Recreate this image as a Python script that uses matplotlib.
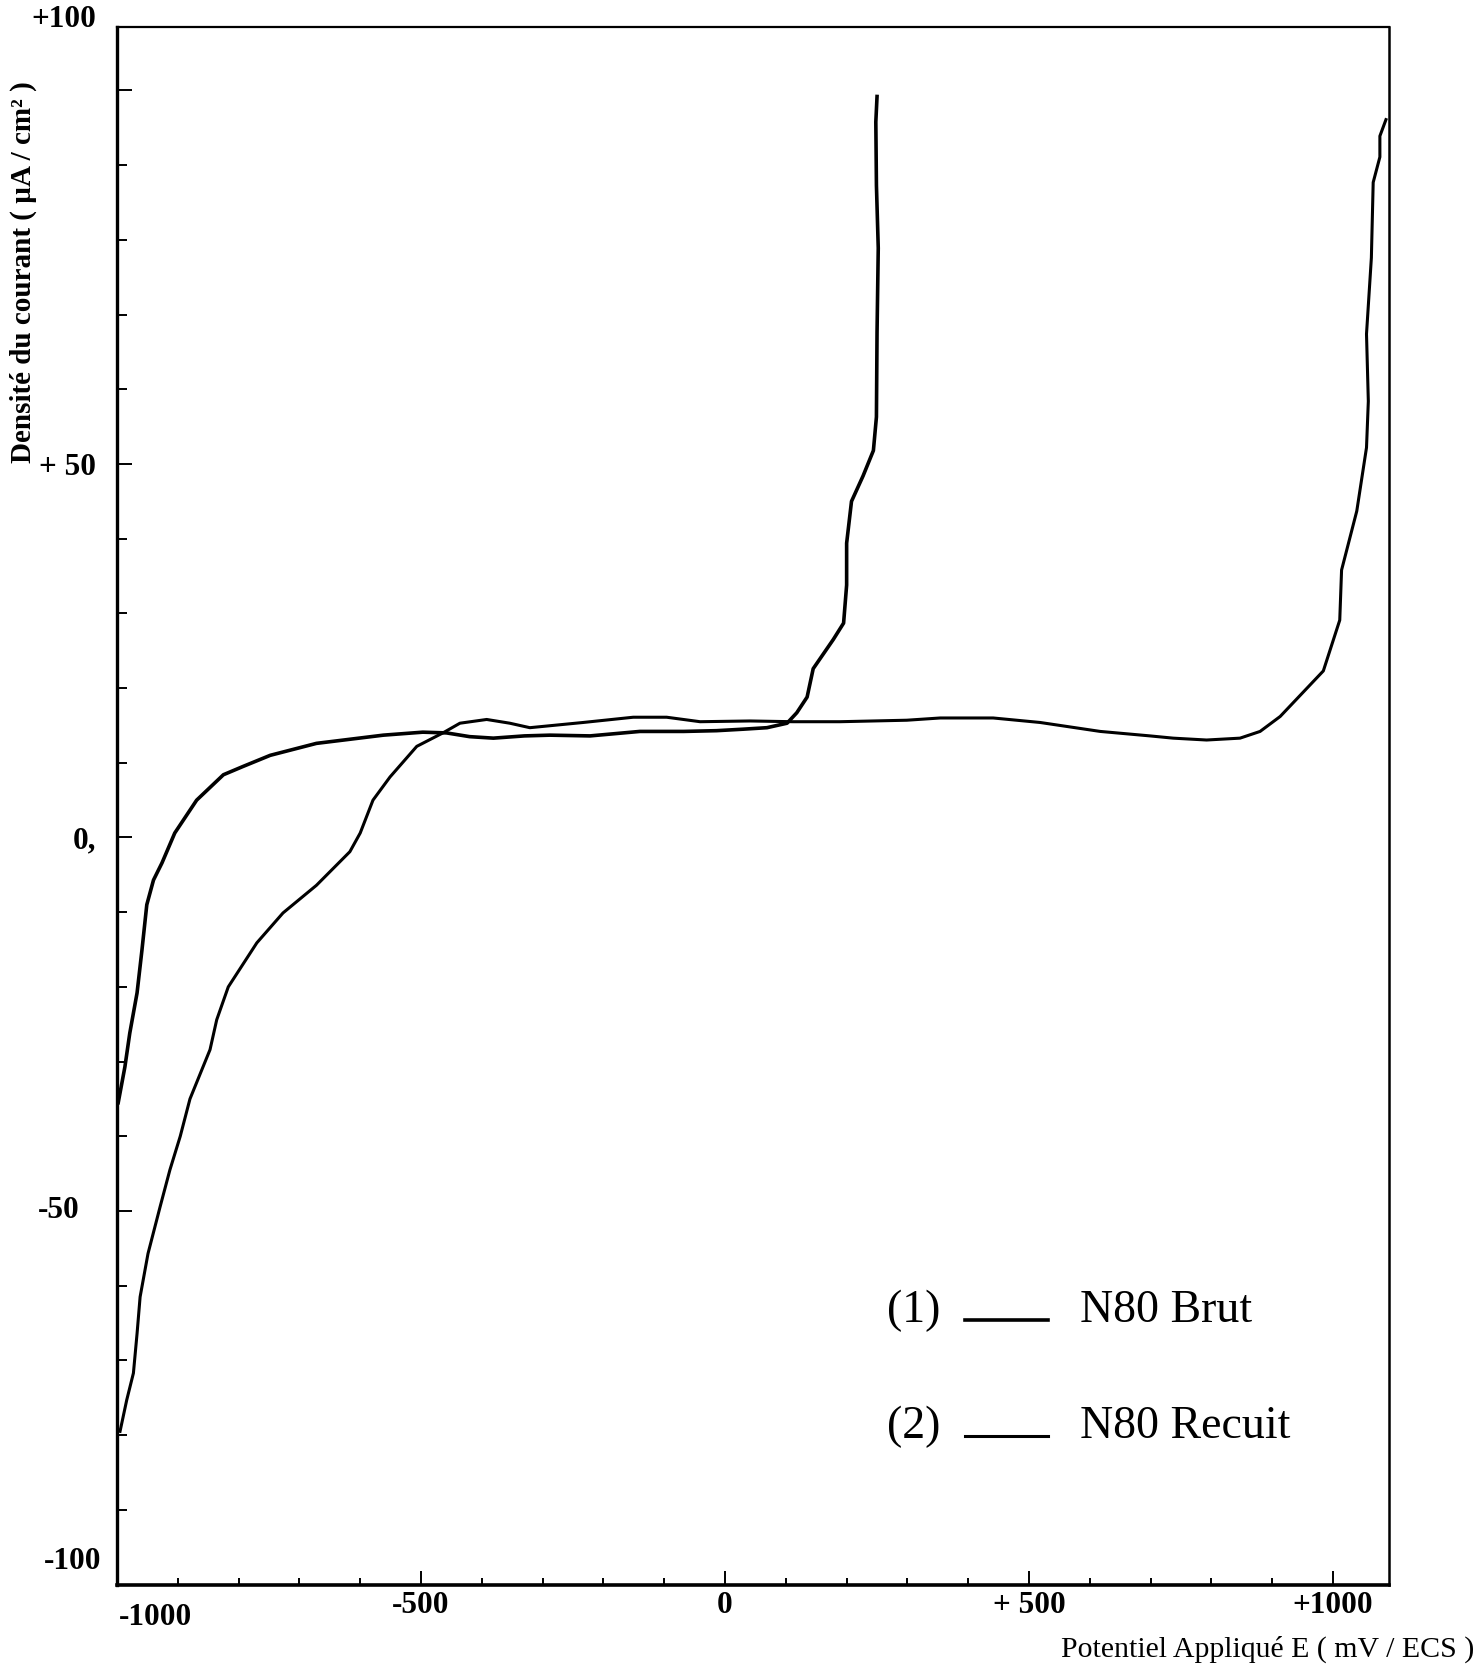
import numpy as np
import matplotlib
matplotlib.use("Agg")
from matplotlib import pyplot as plt
from matplotlib.ticker import MultipleLocator
from matplotlib.legend_handler import HandlerLine2D

plt.rcParams['font.family'] = ['Liberation Serif', 'DejaVu Serif']

# courbe (1) N80 Brut : potentiel (mV/ECS), densite de courant (uA/cm2)
e_brut = [-998, -987, -979, -967, -959, -951, -940, -926, -905, -869, -825, -793,
          -748, -672, -562, -497, -458, -420, -381, -330, -288, -222, -140, -68,
          -14, 30, 69, 102, 118, 135, 145, 178, 195, 200, 200, 208, 227, 244,
          249, 250, 252, 249, 248, 250]
i_brut = [-35.5, -30.7, -26.2, -20.8, -15.1, -9.0, -5.7, -3.4, 0.6, 5.0, 8.4, 9.5,
          11.0, 12.6, 13.7, 14.1, 14.0, 13.5, 13.3, 13.6, 13.7, 13.6, 14.2, 14.2,
          14.3, 14.5, 14.7, 15.3, 16.7, 18.8, 22.6, 26.5, 28.7, 33.8, 39.4, 45.0,
          48.4, 51.8, 56.3, 67.6, 78.9, 87.3, 95.8, 99.2]

# courbe (2) N80 Recuit
e_recuit = [-995, -984, -973, -967, -962, -949, -929, -913, -896, -880, -847, -836,
            -817, -770, -727, -672, -617, -600, -579, -551, -507, -464, -436, -392,
            -354, -321, -233, -151, -96, -41, 41, 112, 189, 299, 354, 441, 518, 617,
            699, 737, 792, 847, 880, 913, 984, 1011, 1014, 1039, 1055, 1058, 1055,
            1063, 1066, 1077, 1077, 1087]
i_recuit = [-79.5, -75.3, -71.7, -66.4, -61.5, -55.7, -49.4, -44.5, -40.0, -35.0,
            -28.4, -24.4, -20.0, -14.1, -10.1, -6.4, -1.9, 0.6, 5.0, 8.1, 12.2, 14.0,
            15.3, 15.8, 15.3, 14.7, 15.4, 16.1, 16.1, 15.5, 15.6, 15.5, 15.5, 15.7,
            16.0, 16.0, 15.4, 14.2, 13.6, 13.3, 13.05, 13.3, 14.2, 16.2, 22.3, 29.1,
            35.8, 43.7, 52.2, 58.4, 67.4, 77.6, 87.7, 91.1, 93.9, 96.1]

x_ticks = [-500, 0, 500, 1000]
x_labels = ['-500', '0', '+ 500', '+1000']
y_ticks = [-100, -50, 0, 50, 100]
y_labels = ['', '', '0,', '+ 50', '']

TICK_FS = 22.5
LEG_FS = 33


class BaselineHandler(HandlerLine2D):
    # trait de legende pose sur la ligne de base du texte, comme sur l'original
    def create_artists(self, legend, orig_handle, xdescent, ydescent, width,
                       height, fontsize, trans):
        arts = super().create_artists(legend, orig_handle, xdescent, ydescent,
                                      width, height, fontsize, trans)
        for a in arts:
            a.set_ydata(np.asarray(a.get_ydata()) - 0.3 * fontsize)
        return arts


W, H = 1478, 1669
fig = plt.figure(figsize=(W / 100, H / 100), dpi=100)
ax = fig.add_axes([117 / W, 1 - 1584.5 / H, 1272 / W, 1557.5 / H])

l1, = ax.plot(e_brut, i_brut, color='black', lw=2.6, solid_joinstyle='round')
l2, = ax.plot(e_recuit, i_recuit, color='black', lw=2.2, solid_joinstyle='round')

ax.set_xlim(-1000, 1092)
ax.set_ylim(-100, 108.5)

ax.set_xticks(x_ticks)
ax.set_xticklabels(x_labels)
ax.xaxis.set_minor_locator(MultipleLocator(100))
ax.set_yticks(y_ticks)
ax.set_yticklabels(y_labels)
ax.yaxis.set_minor_locator(MultipleLocator(10))

ax.tick_params(which='both', direction='in', top=False, right=False, width=1.4)
ax.tick_params(axis='x', which='major', length=10, pad=5, labelsize=TICK_FS)
ax.tick_params(axis='x', which='minor', length=5)
ax.tick_params(axis='y', which='major', length=11, pad=15, labelsize=TICK_FS)
ax.tick_params(axis='y', which='minor', length=7)
for lab in ax.get_xticklabels() + ax.get_yticklabels():
    lab.set_fontweight('bold')

ax.spines['left'].set_linewidth(2.4)
ax.spines['bottom'].set_linewidth(2.6)
ax.spines['top'].set_linewidth(1.6)
ax.spines['right'].set_linewidth(1.8)

# etiquettes placees comme sur l'original
ytr = ax.get_yaxis_transform()
ax.text(-0.016, 1.0045, '+100', transform=ax.transAxes, ha='right', va='center',
        fontsize=TICK_FS, fontweight='bold')
ax.text(-0.029, -50, '-50', transform=ytr, ha='right', va='center',
        fontsize=TICK_FS, fontweight='bold')
ax.text(-0.012, 0.0145, '-100', transform=ax.transAxes, ha='right', va='center',
        fontsize=TICK_FS, fontweight='bold')
ax.text(-937, -0.021, '-1000', transform=ax.get_xaxis_transform(), ha='center',
        va='center', fontsize=TICK_FS, fontweight='bold')

fig.text(23 / W, 1 - 272 / H, 'Densité du courant ( µA / cm² )', rotation=90,
         ha='center', va='center', fontsize=21, fontweight='bold')
fig.text(1474 / W, 1 - 1649 / H, 'Potentiel Appliqué E ( mV / ECS )',
         ha='right', va='center', fontsize=21.5)

leg = ax.legend([l1, l2], ['N80 Brut', 'N80 Recuit'], loc='upper left',
                bbox_to_anchor=(965 / W, 1 - 1290 / H), bbox_transform=fig.transFigure,
                frameon=False, fontsize=LEG_FS, handlelength=1.8, handletextpad=0.72,
                labelspacing=1.6, borderpad=0, borderaxespad=0,
                handler_map={l1: BaselineHandler(), l2: BaselineHandler()})
fig.text(887 / W, 1 - 1322 / H, '(1)', ha='left', va='baseline', fontsize=LEG_FS)
fig.text(887 / W, 1 - 1438 / H, '(2)', ha='left', va='baseline', fontsize=LEG_FS)

fig.savefig('out.png', dpi=100, facecolor='white')
